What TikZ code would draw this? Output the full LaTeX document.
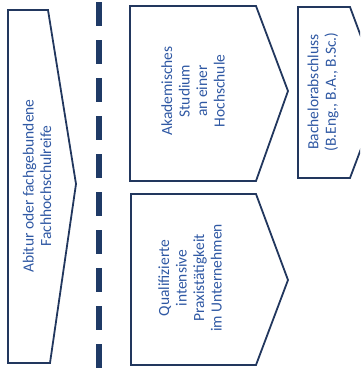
\documentclass[tikz,border=0pt]{standalone}
\usepackage{fontspec}
\setmainfont{Carlito}
\begin{document}
\begin{tikzpicture}[x=1pt,y=-1pt,
  shapeline/.style={draw=boxline, line width=1.8pt, line join=miter},
  lbl/.style={text=lbltext, rotate=90, align=center, font=\fontsize{15.5}{17.5}\selectfont, inner sep=0pt}]
\definecolor{boxline}{HTML}{22375E}
\definecolor{lbltext}{HTML}{2F58A3}
\definecolor{dashcol}{HTML}{1F3A66}
\useasboundingbox (0,0) rectangle (360,381);
\clip (0,0) rectangle (360,381);
% shape 1
\draw[shapeline] (8,10) -- (48,10) -- (76,184) -- (50,363) -- (8,363) -- cycle;
\node[lbl] (abitur) at (37,186) {Abitur oder fachgebundene\\Fachhochschulreife};
% dashed separator
\coordinate (dtop) at (98.5,2);
\coordinate (dbot) at (98.5,381);
\draw[draw=dashcol, line width=6pt, dash pattern=on 24pt off 14pt] (dtop) -- (dbot);
% shape 2
\draw[shapeline] (130,6) -- (256,6) -- (288,91) -- (256,181) -- (130,181) -- cycle;
\node[lbl] (akad) at (193,91) {Akademisches\\Studium\\an einer\\Hochschule};
% shape 3
\draw[shapeline] (131,194) -- (256,194) -- (288,280) -- (256,365) -- (131,365) -- cycle;
\node[lbl] (quali) at (190,278) {Qualifizierte\\intensive\\Praxistätigkeit\\im Unternehmen};
% shape 4
\draw[shapeline] (298,7) -- (350,7) -- (382,93) -- (350,178) -- (298,178) -- cycle;
\node[lbl] (bach) at (323,92) {Bachelorabschluss\\(B.Eng., B.A., B.Sc.)};
\end{tikzpicture}
\end{document}
